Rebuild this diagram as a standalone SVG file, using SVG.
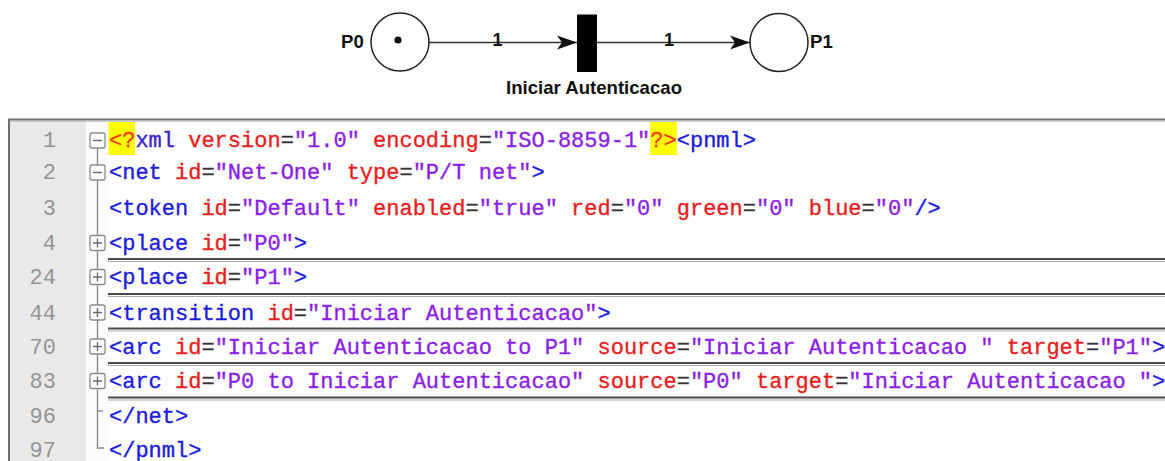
<svg xmlns="http://www.w3.org/2000/svg" width="1165" height="461" viewBox="0 0 1165 461">
  <style>
    .lbl { font-family: "Liberation Sans", Arial, sans-serif; font-weight: bold; font-size: 18px; fill: #111; }
    .big { font-size: 18.6px; }
    .place { fill: #fff; stroke: #222; stroke-width: 1.5; }
    .arc { stroke: #333; stroke-width: 1.6; fill: none; }
    .code { font-family: "Liberation Mono", "Courier New", monospace; font-size: 22px; white-space: pre; stroke-width: 0.35; }
    .num { font-family: "Liberation Mono", "Courier New", monospace; font-size: 22px; fill: #939393; text-anchor: end; }
    .t { fill: #1c1cdc; stroke: #1c1cdc; }
    .x { fill: #3a22c4; stroke: #3a22c4; }
    .a { fill: #e61e1e; stroke: #e61e1e; }
    .v { fill: #8a1ee6; stroke: #8a1ee6; }
    .e { fill: #333; stroke: #333; }
    .p { fill: #f03c10; stroke: #f03c10; }
    .fold { fill: #fff; stroke: #8a8a8a; stroke-width: 1.3; }
    .foldmark { stroke: #6a6a6a; stroke-width: 1.4; fill: none; }
    .tree { stroke: #8a8a8a; stroke-width: 1.4; fill: none; }
    .sepdark { stroke: #4a4a4a; stroke-width: 2; }
    .seplight { stroke: #a8a8a8; stroke-width: 1; }
  </style>
  <defs>
    <marker id="arrow" viewBox="0 0 20 16" refX="20" refY="8" markerWidth="20" markerHeight="16" markerUnits="userSpaceOnUse" orient="auto">
      <path d="M0,1 L20,8 L0,15 L5,8 Z" fill="#111"/>
    </marker>
  </defs>

  <rect x="0" y="0" width="1165" height="461" fill="#fff"/>

  <!-- Petri net: P0 -> Iniciar Autenticacao -> P1 -->
  <g id="connectors">
    <line class="arc" x1="429" y1="42.5" x2="577" y2="42.5" marker-end="url(#arrow)"/>
    <text class="lbl" x="497.5" y="46" text-anchor="middle">1</text>
    <line class="arc" x1="597" y1="42.5" x2="750" y2="42.5" marker-end="url(#arrow)"/>
    <text class="lbl" x="669" y="46" text-anchor="middle">1</text>
  </g>

  <g id="P0">
    <circle class="place" cx="400" cy="42" r="29"/>
    <circle cx="398" cy="40" r="3.6" fill="#111"/>
    <text class="lbl big" x="341" y="47.5">P0</text>
  </g>

  <g id="Iniciar-Autenticacao">
    <rect x="577" y="14.5" width="20" height="57.5" fill="#000"/>
    <text class="lbl big" x="594" y="94" text-anchor="middle">Iniciar Autenticacao</text>
  </g>

  <g id="P1">
    <circle class="place" cx="779" cy="42.5" r="29"/>
    <text class="lbl big" x="810" y="47.5">P1</text>
  </g>

  <!-- Editor panel with the PNML source -->
  <g id="editor">
    <rect x="9" y="120" width="77" height="341" fill="#e9e9e9"/>
    <rect x="86" y="120" width="22" height="341" fill="#fbfbfb"/>
    <line x1="8" y1="119.5" x2="1165" y2="119.5" stroke="#6e6e6e" stroke-width="2"/>
    <line x1="9" y1="121.2" x2="1165" y2="121.2" stroke="#b8b8b8" stroke-width="1"/>
    <line x1="9" y1="119" x2="9" y2="461" stroke="#6e6e6e" stroke-width="2"/>

    <!-- highlighted processing-instruction delimiters -->
    <rect x="108.5" y="122" width="26.6" height="33" fill="#ffff00"/>
    <rect x="650.2" y="122" width="26.6" height="33" fill="#ffff00"/>

    <!-- fold separators under collapsed lines -->
    <g id="separators">
      <line class="sepdark" x1="108" y1="259" x2="1165" y2="259"/>
      <line class="seplight" x1="108" y1="261.5" x2="1165" y2="261.5"/>
      <line class="sepdark" x1="108" y1="294" x2="1165" y2="294"/>
      <line class="seplight" x1="108" y1="296.5" x2="1165" y2="296.5"/>
      <line class="sepdark" x1="108" y1="328.5" x2="1165" y2="328.5"/>
      <line class="seplight" x1="108" y1="331" x2="1165" y2="331"/>
      <line class="sepdark" x1="108" y1="363" x2="1165" y2="363"/>
      <line class="seplight" x1="108" y1="365.5" x2="1165" y2="365.5"/>
      <line class="sepdark" x1="108" y1="397.5" x2="1165" y2="397.5"/>
      <line class="seplight" x1="108" y1="400" x2="1165" y2="400"/>
    </g>

    <!-- fold margin tree -->
    <g id="fold-margin">
      <path class="tree" d="M97.5,148 V448 H104"/>
      <path class="tree" d="M97.5,411 H103"/>
      <rect class="fold" x="90" y="133" width="15" height="15" rx="2"/>
      <path class="foldmark" d="M93,140.5 H102"/>
      <rect class="fold" x="90" y="165" width="15" height="15" rx="2"/>
      <path class="foldmark" d="M93,172.5 H102"/>
      <rect class="fold" x="90" y="235.5" width="15" height="15" rx="2"/>
      <path class="foldmark" d="M93,243 H102 M97.5,238.5 V247.5"/>
      <rect class="fold" x="90" y="269.5" width="15" height="15" rx="2"/>
      <path class="foldmark" d="M93,277 H102 M97.5,272.5 V281.5"/>
      <rect class="fold" x="90" y="305" width="15" height="15" rx="2"/>
      <path class="foldmark" d="M93,312.5 H102 M97.5,308 V317"/>
      <rect class="fold" x="90" y="339" width="15" height="15" rx="2"/>
      <path class="foldmark" d="M93,346.5 H102 M97.5,342 V351"/>
      <rect class="fold" x="90" y="373.5" width="15" height="15" rx="2"/>
      <path class="foldmark" d="M93,381 H102 M97.5,376.5 V385.5"/>
    </g>

    <!-- line numbers -->
    <g id="line-numbers">
      <text class="num" x="56" y="147">1</text>
      <text class="num" x="56" y="179">2</text>
      <text class="num" x="56" y="215">3</text>
      <text class="num" x="56" y="250">4</text>
      <text class="num" x="56" y="284">24</text>
      <text class="num" x="56" y="319.5">44</text>
      <text class="num" x="56" y="353.5">70</text>
      <text class="num" x="56" y="388">83</text>
      <text class="num" x="56" y="423">96</text>
      <text class="num" x="56" y="457">97</text>
    </g>

    <!-- source lines -->
    <g id="source">
      <text class="code" x="109" y="147"><tspan class="p">&lt;?</tspan><tspan class="x">xml</tspan> <tspan class="a">version</tspan><tspan class="e">=</tspan><tspan class="v">"1.0"</tspan> <tspan class="a">encoding</tspan><tspan class="e">=</tspan><tspan class="v">"ISO-8859-1"</tspan><tspan class="p">?&gt;</tspan><tspan class="t">&lt;pnml&gt;</tspan></text>
      <text class="code" x="109" y="179"><tspan class="t">&lt;net</tspan> <tspan class="a">id</tspan><tspan class="e">=</tspan><tspan class="v">"Net-One"</tspan> <tspan class="a">type</tspan><tspan class="e">=</tspan><tspan class="v">"P/T net"</tspan><tspan class="t">&gt;</tspan></text>
      <text class="code" x="109" y="215"><tspan class="t">&lt;token</tspan> <tspan class="a">id</tspan><tspan class="e">=</tspan><tspan class="v">"Default"</tspan> <tspan class="a">enabled</tspan><tspan class="e">=</tspan><tspan class="v">"true"</tspan> <tspan class="a">red</tspan><tspan class="e">=</tspan><tspan class="v">"0"</tspan> <tspan class="a">green</tspan><tspan class="e">=</tspan><tspan class="v">"0"</tspan> <tspan class="a">blue</tspan><tspan class="e">=</tspan><tspan class="v">"0"</tspan><tspan class="t">/&gt;</tspan></text>
      <text class="code" x="109" y="250"><tspan class="t">&lt;place</tspan> <tspan class="a">id</tspan><tspan class="e">=</tspan><tspan class="v">"P0"</tspan><tspan class="t">&gt;</tspan></text>
      <text class="code" x="109" y="284"><tspan class="t">&lt;place</tspan> <tspan class="a">id</tspan><tspan class="e">=</tspan><tspan class="v">"P1"</tspan><tspan class="t">&gt;</tspan></text>
      <text class="code" x="109" y="319.5"><tspan class="t">&lt;transition</tspan> <tspan class="a">id</tspan><tspan class="e">=</tspan><tspan class="v">"Iniciar Autenticacao"</tspan><tspan class="t">&gt;</tspan></text>
      <text class="code" x="109" y="353.5"><tspan class="t">&lt;arc</tspan> <tspan class="a">id</tspan><tspan class="e">=</tspan><tspan class="v">"Iniciar Autenticacao to P1"</tspan> <tspan class="a">source</tspan><tspan class="e">=</tspan><tspan class="v">"Iniciar Autenticacao "</tspan> <tspan class="a">target</tspan><tspan class="e">=</tspan><tspan class="v">"P1"</tspan><tspan class="t">&gt;</tspan></text>
      <text class="code" x="109" y="388"><tspan class="t">&lt;arc</tspan> <tspan class="a">id</tspan><tspan class="e">=</tspan><tspan class="v">"P0 to Iniciar Autenticacao"</tspan> <tspan class="a">source</tspan><tspan class="e">=</tspan><tspan class="v">"P0"</tspan> <tspan class="a">target</tspan><tspan class="e">=</tspan><tspan class="v">"Iniciar Autenticacao "</tspan><tspan class="t">&gt;</tspan></text>
      <text class="code" x="109" y="423"><tspan class="t">&lt;/net&gt;</tspan></text>
      <text class="code" x="109" y="457"><tspan class="t">&lt;/pnml&gt;</tspan></text>
    </g>
  </g>
</svg>
